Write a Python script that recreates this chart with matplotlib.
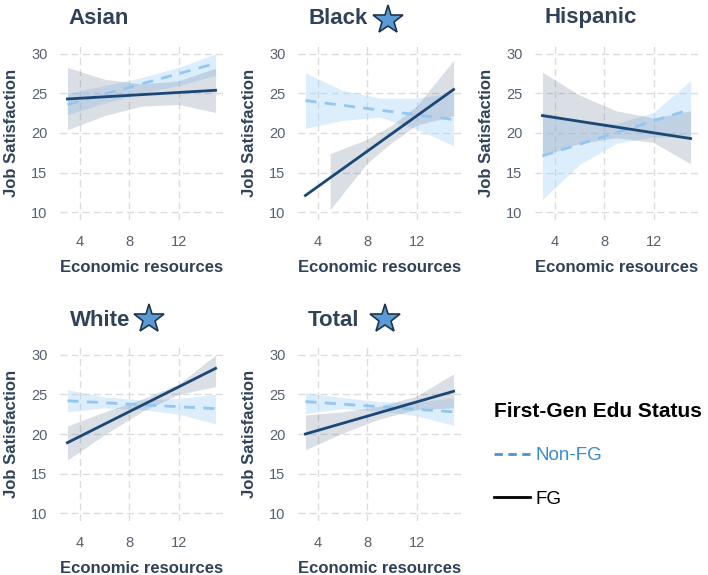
import numpy as np
import matplotlib
matplotlib.use("Agg")
import matplotlib.pyplot as plt
from matplotlib.lines import Line2D

plt.rcParams["font.family"] = ["Liberation Sans", "DejaVu Sans"]

# --- data (x = economic resources, y = job satisfaction) ---
panels = ["Asian", "Black", "Hispanic", "White", "Total"]
starred = {"Black", "White", "Total"}

line_x = [3, 15]
fg_line = {
    "Asian": [24.3, 25.4],
    "Black": [12.1, 25.5],
    "Hispanic": [22.2, 19.3],
    "White": [18.9, 28.3],
    "Total": [20.0, 25.4],
}
nonfg_line = {
    "Asian": [23.6, 28.8],
    "Black": [24.1, 21.7],
    "Hispanic": [17.1, 23.0],
    "White": [24.2, 23.2],
    "Total": [24.1, 22.8],
}

# confidence bands: x positions, lower, upper
ci_x = [3, 6, 9, 12, 15]
ci_x_black_fg = [5, 8, 10, 12, 15]
fg_lo = {
    "Asian": [20.4, 22.2, 23.4, 23.6, 22.6],
    "Black": [10.3, 16.2, 18.8, 21.0, 22.2],
    "Hispanic": [17.1, 18.7, 19.4, 18.8, 16.1],
    "White": [16.7, 19.9, 22.8, 25.0, 26.0],
    "Total": [18.0, 20.1, 21.9, 23.1, 23.3],
}
fg_hi = {
    "Asian": [28.3, 26.8, 26.2, 26.6, 28.2],
    "Black": [17.4, 19.2, 21.0, 23.4, 29.2],
    "Hispanic": [27.7, 24.8, 22.8, 21.9, 22.8],
    "White": [21.0, 22.8, 24.4, 26.3, 30.0],
    "Total": [22.4, 22.8, 23.5, 24.8, 27.6],
}
nonfg_lo = {
    "Asian": [22.3, 23.8, 25.0, 26.0, 27.3],
    "Black": [20.6, 21.6, 22.0, 20.5, 18.4],
    "Hispanic": [11.6, 16.0, 18.7, 19.5, 19.5],
    "White": [22.8, 23.3, 23.1, 22.5, 21.3],
    "Total": [22.6, 23.2, 22.9, 22.3, 21.1],
}
nonfg_hi = {
    "Asian": [25.0, 26.0, 27.0, 28.3, 30.0],
    "Black": [27.6, 25.4, 24.4, 24.4, 25.1],
    "Hispanic": [22.6, 21.5, 21.2, 22.6, 26.6],
    "White": [25.6, 24.7, 24.3, 24.5, 25.0],
    "Total": [25.2, 24.6, 24.1, 24.0, 24.6],
}

xticks = [4, 8, 12]
yticks = [10, 15, 20, 25, 30]

NAVY = "#1c4775"
LIGHT = "#93c6f0"
TXT = "#2f4259"
TICK = "#55606e"

W, H = 708, 575
fig = plt.figure(figsize=(W / 100, H / 100), dpi=100)

# axes boxes in pixels: left, top, width, height
boxes = {
    "Asian": (60, 46, 163, 174),
    "Black": (298, 46, 163, 174),
    "Hispanic": (535, 46, 163, 174),
    "White": (60, 347, 163, 174),
    "Total": (298, 347, 163, 174),
}
# title anchor (left x, centre y) and star centre, pixels
title_pos = {
    "Asian": (68, 18), "Black": (308, 18), "Hispanic": (545, 18),
    "White": (70, 320), "Total": (308, 320),
}
star_pos = {"Black": (388, 20), "White": (149, 319), "Total": (385, 319)}

for name in panels:
    l, t, w, h = boxes[name]
    ax = fig.add_axes([l / W, 1 - (t + h) / H, w / W, h / H])
    fx = ci_x_black_fg if name == "Black" else ci_x
    ax.fill_between(ci_x, nonfg_lo[name], nonfg_hi[name], color="#a9d4f7",
                    alpha=0.4, lw=0, zorder=2)
    ax.fill_between(fx, fg_lo[name], fg_hi[name], color="#5a7090",
                    alpha=0.22, lw=0, zorder=3)
    ax.plot(line_x, nonfg_line[name], color=LIGHT, lw=2.0,
            ls=(0, (4, 3)), zorder=4)
    ax.plot(line_x, fg_line[name], color=NAVY, lw=2.0, zorder=5)

    ax.set_xlim(2.4, 15.6)
    ax.set_ylim(9, 31)
    ax.set_xticks(xticks)
    ax.set_yticks(yticks)
    ax.grid(True, color="#dcdcdc", lw=1.0, ls=(0, (5, 3)), zorder=0)
    ax.set_axisbelow(True)
    for s in ax.spines.values():
        s.set_visible(False)
    ax.tick_params(length=0, labelsize=10.5, labelcolor=TICK)
    ax.tick_params(axis="x", pad=11)
    ax.tick_params(axis="y", pad=9)
    ax.set_xlabel("Economic resources", fontsize=12, fontweight="bold",
                  color=TXT, labelpad=8)
    ax.set_ylabel("Job Satisfaction", fontsize=12, fontweight="bold",
                  color=TXT, labelpad=9)
    tx, ty = title_pos[name]
    fig.text(tx / W, 1 - ty / H, name, fontsize=16, fontweight="bold",
             color=TXT, va="center", ha="left")
    if name in starred:
        sx, sy = star_pos[name]
        fig.add_artist(Line2D([sx / W], [1 - sy / H], marker="*", ms=22,
                              mfc="#5b9bd5", mec="#1d3550", mew=1.2,
                              ls="none", transform=fig.transFigure))

handles = [Line2D([], [], color="#4a93d6", lw=2, ls=(0, (3, 2))),
           Line2D([], [], color="black", lw=2)]
leg = fig.legend(handles, ["Non-FG", "FG"], loc="upper left",
                 bbox_to_anchor=(477 / W, 1 - 385 / H), frameon=False,
                 title="First-Gen Edu Status", fontsize=13.5,
                 title_fontproperties={"weight": "bold", "size": 15},
                 handlelength=1.9, handletextpad=0.3, labelspacing=1.4,
                 alignment="left")
leg.get_texts()[0].set_color("#3a8ad0")
leg.get_texts()[1].set_color("black")

fig.savefig("out.png", dpi=100)
